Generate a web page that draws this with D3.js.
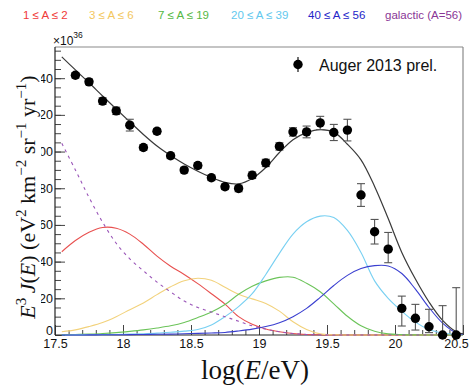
<!DOCTYPE html>
<html>
<head>
<meta charset="utf-8">
<script src="https://cdn.jsdelivr.net/npm/d3@7"></script>
<style>
  body { margin: 0; background: #fff; }
  svg { display: block; }
</style>
</head>
<body>
<svg id="chart" width="475" height="385"></svg>
<script>
// ---- Auger 2013 preliminary spectrum (E^3 J(E), units of 1e36) ----
const dataLogE = [17.65, 17.75, 17.85, 17.95, 18.05, 18.15, 18.25, 18.35, 18.45, 18.55,
                  18.65, 18.75, 18.85, 18.95, 19.05, 19.15, 19.25, 19.35, 19.45, 19.55,
                  19.65, 19.75, 19.85, 19.95, 20.05, 20.15, 20.25, 20.35, 20.45];
const dataFlux = [141.6, 138.0, 127.5, 122.2, 114.4, 102.2, 111.1, 97.7, 89.9, 92.4,
                  85.7, 80.8, 79.9, 87.1, 93.8, 102.8, 110.7, 110.7, 115.6, 110.4,
                  111.7, 76.3, 56.3, 46.8, 14.5, 9.1, 4.5, 0, 0];
const dataErrLo = [1.5, 1.5, 1.8, 2.0, 3.2, 1.5, 1.5, 1.5, 1.5, 1.5,
                   1.5, 1.5, 1.8, 1.8, 2.0, 2.0, 2.3, 3.2, 3.6, 4.4,
                   5.9, 6.2, 6.7, 7.4, 9.6, 6.4, 3.2, 0, 0];
const dataErrHi = [1.5, 1.5, 1.8, 2.0, 3.2, 1.5, 1.5, 1.5, 1.5, 1.5,
                   1.5, 1.5, 1.8, 1.8, 2.0, 2.0, 2.3, 3.2, 3.6, 4.4,
                   5.9, 6.2, 6.7, 9.1, 6.7, 7.6, 9.5, 16.0, 25.8];

// ---- model components sampled on a common log(E/eV) grid ----
const modelLogE = [17.55, 17.65, 17.75, 17.85, 17.95, 18.05, 18.15, 18.25, 18.35, 18.45,
                   18.55, 18.65, 18.75, 18.85, 18.95, 19.05, 19.15, 19.25, 19.35, 19.45,
                   19.55, 19.65, 19.75, 19.85, 19.95, 20.05, 20.15, 20.25, 20.35, 20.45, 20.5];
const modelA1to2 = [45.4, 51.5, 56.0, 58.6, 58.2, 55.0, 49.5, 43.0, 37.5, 33.0,
                    28.0, 22.5, 16.8, 10.0, 5.8, 3.3, 1.8, 0.8, 0.3, 0.1,
                    0, 0, 0, 0, 0, 0, 0, 0, 0, 0, 0];
const modelA3to6 = [1.8, 2.8, 4.6, 6.8, 10.0, 13.8, 17.5, 22.0, 26.3, 29.6,
                    30.9, 29.8, 26.0, 22.2, 19.7, 17.2, 13.0, 7.2, 3.0, 0.6,
                    0.1, 0, 0, 0, 0, 0, 0, 0, 0, 0, 0];
const modelA7to19 = [0.2, 0.3, 0.5, 0.8, 1.3, 2.0, 2.8, 3.8, 5.0, 6.8,
                     9.5, 12.5, 16.6, 22.2, 26.6, 29.5, 31.4, 31.5, 28.2, 23.6,
                     17.0, 10.2, 5.0, 2.0, 0.6, 0.2, 0.05, 0, 0, 0, 0];
const modelA20to39 = [0.02, 0.05, 0.1, 0.2, 0.3, 0.5, 0.7, 1.0, 1.5, 2.1,
                      3.0, 5.5, 10.0, 15.5, 22.5, 33.0, 44.5, 55.0, 61.7, 64.8,
                      64.0, 57.0, 45.0, 29.5, 20.0, 13.0, 7.0, 3.0, 1.1, 0.3, 0.2];
const modelA40to56 = [0, 0.02, 0.05, 0.1, 0.15, 0.2, 0.3, 0.4, 0.5, 0.7,
                      0.9, 1.1, 1.4, 2.2, 3.2, 4.6, 6.7, 10.0, 14.5, 20.5,
                      27.0, 32.5, 36.2, 37.8, 37.6, 33.5, 25.0, 15.0, 6.5, 1.2, 0.4];
const modelGalactic = [104.5, 90.0, 75.0, 61.5, 50.0, 41.5, 35.0, 28.8, 23.5, 18.5,
                       15.0, 12.5, 10.0, 7.5, 5.0, 3.2, 1.8, 0.8, 0.3, 0.1,
                       0.02, 0, 0, 0, 0, 0, 0, 0, 0, 0, 0];
const modelTotal = [151.6, 144.5, 137.5, 130.3, 123.2, 116.2, 109.3, 103.0, 97.8, 93.2,
                    89.3, 85.9, 83.2, 82.4, 85.3, 91.3, 99.5, 106.5, 110.3, 112.0,
                    110.6, 104.0, 95.5, 81.0, 63.5, 45.0, 30.5, 18.0, 8.0, 1.8, 0.6];

const componentNames = ["1 \u2264 A \u2264 2", "3 \u2264 A \u2264 6", "7 \u2264 A \u2264 19",
                        "20 \u2264 A \u2264 39", "40 \u2264 A \u2264 56", "galactic (A=56)"];

// ---- axis ticks ----
const xTickValues = [17.5, 18, 18.5, 19, 19.5, 20, 20.5];
const xTickLabels = ["17.5", "18", "18.5", "19", "19.5", "20", "20.5"];
const yTickValues = [0, 20, 40, 60, 80, 100, 120, 140];
const yTickLabels = ["0", "20", "40", "60", "80", "100", "120", "140"];

// ---- layout / style ----
const W = 475, H = 385;
const plot = { left: 55, right: 463, top: 47, bottom: 335 };
const sans = "'Liberation Sans', Arial, Helvetica, sans-serif";
const serif = "'Liberation Serif', 'Times New Roman', serif";

const components = [
  { values: modelA1to2,    line: "#e8504f", text: "#f03a3a" },
  { values: modelA3to6,    line: "#f2d27c", text: "#f3c75e" },
  { values: modelA7to19,   line: "#6cc45a", text: "#55b844" },
  { values: modelA20to39,  line: "#78d0f2", text: "#62c8ee" },
  { values: modelA40to56,  line: "#3a3fd0", text: "#2424c8" },
  { values: modelGalactic, line: "#9a55b8", text: "#8a3696", dash: "3,4" }
];
const legendX = [23, 89, 158, 231, 308, 385];

const svg = d3.select("#chart");

const x = d3.scaleLinear().domain([17.5, 20.5]).range([plot.left, plot.right]);
const y = d3.scaleLinear().domain([0, 157]).range([plot.bottom, plot.top]);

// frame: top/right in grey, axes in black
svg.append("line").attr("x1", plot.left).attr("x2", plot.right)
  .attr("y1", plot.top).attr("y2", plot.top).attr("stroke", "#8a8a8a").attr("stroke-width", 1.2);
svg.append("line").attr("x1", plot.right).attr("x2", plot.right)
  .attr("y1", plot.top).attr("y2", plot.bottom).attr("stroke", "#8a8a8a").attr("stroke-width", 1.2);

// minor ticks
const xMinor = d3.range(17.5, 20.501, 0.1).map(v => +v.toFixed(2));
const yMinor = d3.range(0, 156, 5);
svg.append("g").attr("transform", `translate(0,${plot.bottom})`)
  .call(d3.axisBottom(x).tickValues(xMinor).tickSize(-5).tickFormat(""))
  .call(g => g.select(".domain").remove())
  .call(g => g.selectAll("line").attr("stroke", "#444"));
svg.append("g").attr("transform", `translate(${plot.left},0)`)
  .call(d3.axisLeft(y).tickValues(yMinor).tickSize(-6).tickFormat(""))
  .call(g => g.select(".domain").remove())
  .call(g => g.selectAll("line").attr("stroke", "#444"));

// major x ticks + labels
const xAxis = svg.append("g").attr("transform", `translate(0,${plot.bottom})`)
  .call(d3.axisBottom(x).tickValues(xTickValues).tickSize(-10).tickPadding(4)
    .tickFormat((d, i) => xTickLabels[i]));
xAxis.select(".domain").remove();
xAxis.selectAll("line").attr("stroke", "#444");
xAxis.selectAll("text").attr("font-family", sans).attr("font-size", 12.5).attr("fill", "#111");
xAxis.selectAll("text").filter((d, i) => i === xTickLabels.length - 1).attr("dx", -7);

// major y ticks; labels go in a clipped layer so the axis title keeps its room
const yAxis = svg.append("g").attr("transform", `translate(${plot.left},0)`)
  .call(d3.axisLeft(y).tickValues(yTickValues).tickSize(-10).tickFormat(""));
yAxis.select(".domain").remove();
yAxis.selectAll("line").attr("stroke", "#444");

svg.append("clipPath").attr("id", "ylabClip")
  .append("rect").attr("x", 41).attr("y", 0).attr("width", 20).attr("height", H);
svg.append("g").attr("clip-path", "url(#ylabClip)")
  .selectAll("text").data(yTickValues).join("text")
  .attr("x", plot.left - 2)
  .attr("y", d => d === 0 ? y(d) - 4 : y(d))
  .attr("dy", "0.35em")
  .attr("text-anchor", "end").attr("font-family", sans).attr("font-size", 12.5)
  .attr("fill", "#111")
  .text((d, i) => yTickLabels[i]);

// axis lines
svg.append("line").attr("x1", plot.left).attr("x2", plot.right)
  .attr("y1", plot.bottom).attr("y2", plot.bottom).attr("stroke", "#222").attr("stroke-width", 1.2);
svg.append("line").attr("x1", plot.left).attr("x2", plot.left)
  .attr("y1", plot.top).attr("y2", plot.bottom).attr("stroke", "#222").attr("stroke-width", 1.2);

// model curves
const line = d3.line()
  .x((d, i) => x(modelLogE[i]))
  .y(d => y(d))
  .curve(d3.curveCatmullRom.alpha(0.5));

const curves = svg.append("g").attr("fill", "none");
components.forEach(c => {
  curves.append("path").attr("d", line(c.values))
    .attr("stroke", c.line).attr("stroke-width", 1.1)
    .attr("stroke-dasharray", c.dash || null);
});
curves.append("path").attr("d", line(modelTotal))
  .attr("stroke", "#3a3a3a").attr("stroke-width", 1.2);

// data: error bars with caps, then markers
const pts = svg.append("g");
dataLogE.forEach((e, i) => {
  const cx = x(e);
  const lowVal = dataFlux[i] - dataErrLo[i];
  const lo = y(Math.max(0, lowVal));
  const hi = y(dataFlux[i] + dataErrHi[i]);
  pts.append("line").attr("x1", cx).attr("x2", cx).attr("y1", lo).attr("y2", hi)
    .attr("stroke", "#555").attr("stroke-width", 1.1);
  pts.append("line").attr("x1", cx - 4).attr("x2", cx + 4).attr("y1", hi).attr("y2", hi)
    .attr("stroke", "#555").attr("stroke-width", 1.1);
  if (lowVal > 0) {
    pts.append("line").attr("x1", cx - 4).attr("x2", cx + 4).attr("y1", lo).attr("y2", lo)
      .attr("stroke", "#555").attr("stroke-width", 1.1);
  }
});
pts.selectAll("circle").data(dataLogE).join("circle")
  .attr("cx", d => x(d)).attr("cy", (d, i) => y(dataFlux[i]))
  .attr("r", 4.7).attr("fill", "#000");

// legend: model components across the top
svg.append("g").selectAll("text").data(componentNames).join("text")
  .attr("x", (d, i) => legendX[i]).attr("y", 19)
  .attr("font-family", sans).attr("font-size", 11.5)
  .attr("fill", (d, i) => components[i].text)
  .text(d => d);

// legend: data marker
svg.append("line").attr("x1", 298).attr("x2", 298).attr("y1", 57).attr("y2", 72)
  .attr("stroke", "#000").attr("stroke-width", 1.1);
svg.append("circle").attr("cx", 298).attr("cy", 64.5).attr("r", 4.7).attr("fill", "#000");
svg.append("text").attr("x", 319).attr("y", 71)
  .attr("font-family", sans).attr("font-size", 16).attr("fill", "#111")
  .text("Auger 2013 prel.");

// exponent of the y scale
const expo = svg.append("text").attr("x", 53).attr("y", 45)
  .attr("font-family", sans).attr("font-size", 12).attr("fill", "#111");
expo.append("tspan").text("\u00d710");
expo.append("tspan").attr("font-size", 8.5).attr("dy", -7).text("36");

// x axis title
const xt = svg.append("text").attr("x", 255).attr("y", 379).attr("text-anchor", "middle")
  .attr("font-family", serif).attr("font-size", 27).attr("fill", "#111");
xt.append("tspan").text("log(");
xt.append("tspan").attr("font-style", "italic").text("E");
xt.append("tspan").text("/eV)");

// y axis title
const yt = svg.append("text").attr("transform", "translate(35,197) rotate(-90)")
  .attr("text-anchor", "middle").attr("font-family", serif).attr("font-size", 22).attr("fill", "#111");
const sup = (s) => { yt.append("tspan").attr("font-size", 15).attr("dy", -9).text(s); };
const base = (s, italic) => {
  const t = yt.append("tspan").attr("dy", 9).text(s);
  if (italic) t.attr("font-style", "italic");
  return t;
};
yt.append("tspan").attr("font-style", "italic").text("E");
sup("3");
base("\u2009J", true);
yt.append("tspan").text("(");
yt.append("tspan").attr("font-style", "italic").text("E");
yt.append("tspan").text(") (eV");
sup("2");
base(" km");
sup("\u22122");
base(" sr");
sup("\u22121");
base(" yr");
sup("\u22121");
base(")");
</script>
</body>
</html>
